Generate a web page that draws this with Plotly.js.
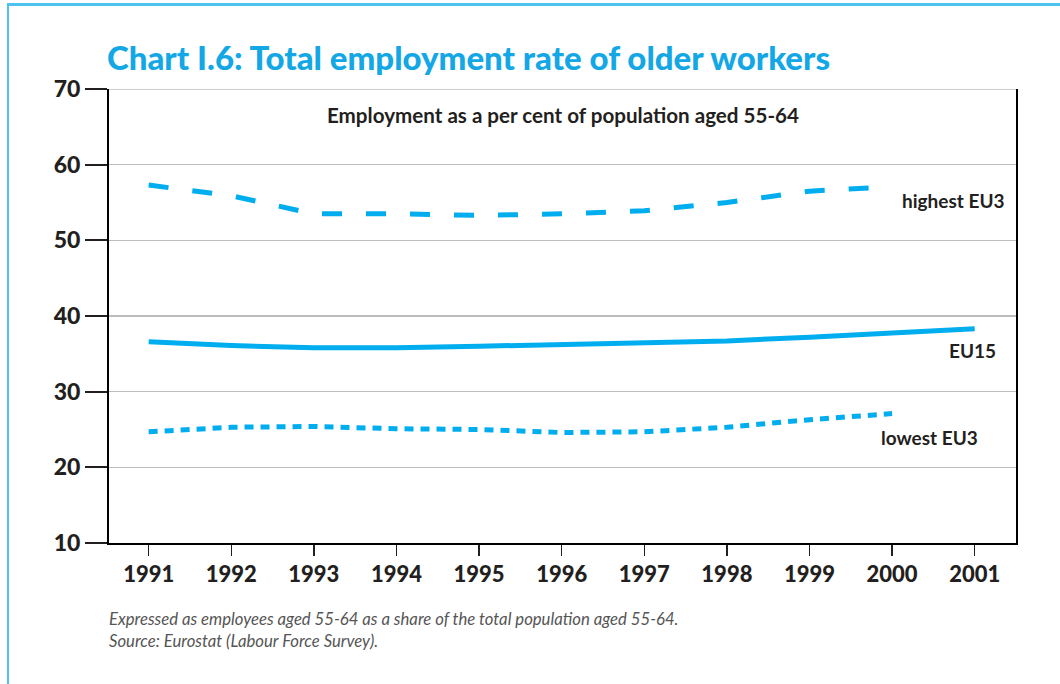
<!DOCTYPE html>
<html>
<head>
<meta charset="utf-8">
<script src="https://cdn.plot.ly/plotly-3.0.1.min.js"></script>
<style>
html,body{margin:0;padding:0;background:#fff;}
#frame{position:absolute;left:7px;top:3px;width:1053px;height:681px;border-left:2px solid #4cc3ee;border-top:3px solid #4cc3ee;box-sizing:border-box;}
#chart{position:absolute;left:0;top:0;width:1060px;height:684px;}
</style>
</head>
<body>
<div id="frame"></div>
<div id="chart"></div>
<script>
const years = [1991,1992,1993,1994,1995,1996,1997,1998,1999,2000,2001];
const highestEU3 = [57.3,55.9,53.5,53.5,53.3,53.5,53.9,55.0,56.5,57.1,null];
const eu15 = [36.6,36.1,35.8,35.8,36.0,36.2,36.5,36.7,37.2,37.8,38.3];
const lowestEU3 = [24.7,25.3,25.4,25.1,25.0,24.6,24.7,25.3,26.3,27.1,null];
const yTicks = [10,20,30,40,50,60,70];
const tickLabels = ['1991','1992','1993','1994','1995','1996','1997','1998','1999','2000','2001'];

const blue = '#00aeef';
const dark = '#231f20';
const fontFam = 'Lato, "Open Sans", sans-serif';

const traces = [
  {x: years, y: highestEU3, mode:'lines', name:'highest EU3', line:{color:blue, width:5, dash:'20px,24px'}, connectgaps:false},
  {x: years, y: eu15, mode:'lines', name:'EU15', line:{color:blue, width:5}},
  {x: years, y: lowestEU3, mode:'lines', name:'lowest EU3', line:{color:blue, width:5, dash:'9px,7px'}}
];

const layout = {
  width:1060, height:684,
  paper_bgcolor:'rgba(0,0,0,0)', plot_bgcolor:'rgba(0,0,0,0)',
  showlegend:false,
  margin:{l:109, r:44, t:89, b:141},
  title:{text:'Chart I.6: Total employment rate of older workers', x:107/1060, xanchor:'left', y:1-58/684, yanchor:'middle',
         font:{family:fontFam, size:33, color:'#14a7e6', weight:900}},
  xaxis:{range:[1990.52,2001.5], tickvals:years, ticktext:tickLabels, ticks:'outside', ticklen:11, tickwidth:1.5, tickcolor:'#231f20',
         showline:true, linecolor:'#000', linewidth:2, showgrid:false, zeroline:false,
         tickfont:{family:fontFam, size:22, color:dark, weight:900}, fixedrange:true},
  yaxis:{range:[10,70], tickvals:yTicks, ticks:'outside', ticklen:22, tickwidth:2, tickcolor:'#231f20',
         showline:true, mirror:true, linecolor:'#000', linewidth:2, showgrid:true, gridcolor:'#bdbdbd', gridwidth:1.5, zeroline:false,
         tickfont:{family:fontFam, size:23, color:dark, weight:900}, fixedrange:true},
  shapes:[
    {type:'line', xref:'paper', yref:'y', x0:0, x1:1, y0:70, y1:70, line:{color:'#bdbdbd', width:1.5}, layer:'below'}
  ],
  annotations:[
    {text:'Employment as a per cent of population aged 55-64', xref:'paper', yref:'paper', x:0.5, y:(543-115)/454, xanchor:'center', yanchor:'middle', showarrow:false,
     font:{family:fontFam, size:20.6, color:dark, weight:'bold'}},
    {text:'highest EU3', xref:'x', yref:'y', x:2000.1, y:55.2, xanchor:'left', yanchor:'middle', showarrow:false,
     font:{family:fontFam, size:19, color:dark, weight:'bold'}},
    {text:'EU15', xref:'x', yref:'y', x:2000.97, y:35.4, xanchor:'center', yanchor:'middle', showarrow:false,
     font:{family:fontFam, size:19, color:dark, weight:'bold'}},
    {text:'lowest EU3', xref:'x', yref:'y', x:2000.45, y:23.9, xanchor:'center', yanchor:'middle', showarrow:false,
     font:{family:fontFam, size:19, color:dark, weight:'bold'}},
    {text:'Expressed as employees aged 55-64 as a share of the total population aged 55-64.', xref:'paper', yref:'paper', x:-2/907, y:(543-619)/454, xanchor:'left', yanchor:'middle', showarrow:false,
     font:{family:fontFam, size:16.7, color:'#555', style:'italic'}},
    {text:'Source: Eurostat (Labour Force Survey).', xref:'paper', yref:'paper', x:-2/907, y:(543-641)/454, xanchor:'left', yanchor:'middle', showarrow:false,
     font:{family:fontFam, size:16.7, color:'#555', style:'italic'}}
  ]
};

Plotly.newPlot('chart', traces, layout, {staticPlot:true, displayModeBar:false});
</script>
</body>
</html>
